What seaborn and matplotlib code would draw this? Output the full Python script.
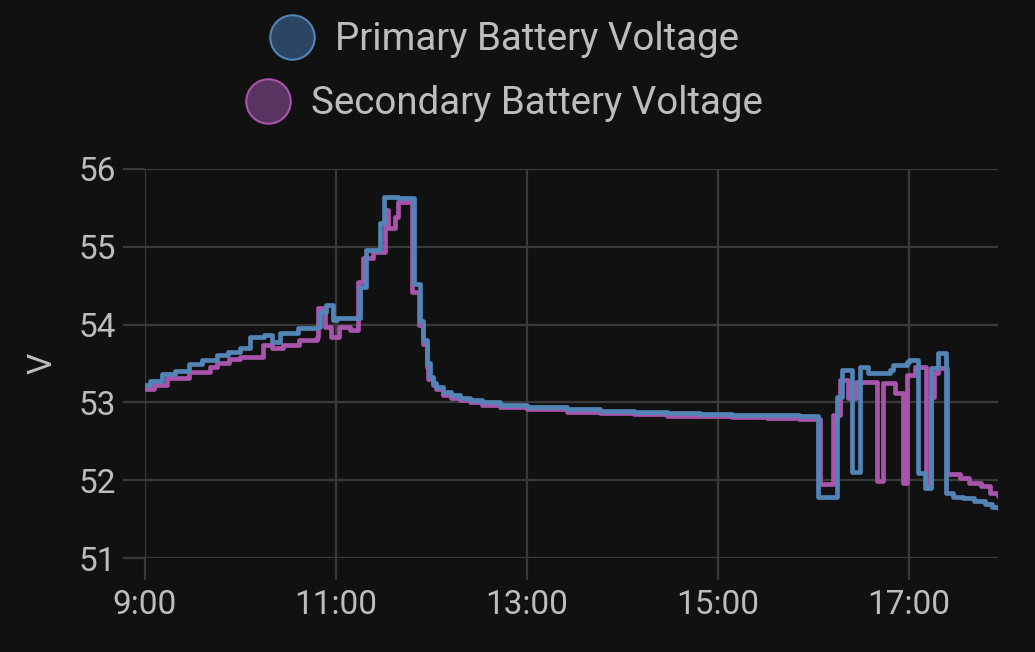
import matplotlib
matplotlib.use("Agg")
import matplotlib.pyplot as plt
from matplotlib.lines import Line2D
import seaborn as sns
import pandas as pd

# battery voltages (step data, value holds until next time)
primary_times = ["9:00", "9:03", "9:11", "9:19", "9:28", "9:36", "9:45", "9:52", "10:00", "10:06",
                 "10:15", "10:20", "10:25", "10:36", "10:48", "10:50", "10:54", "10:58", "11:01", "11:15",
                 "11:19", "11:28", "11:30", "11:39", "11:49", "11:53", "11:55", "11:57", "11:59", "12:01",
                 "12:03", "12:07", "12:12", "12:18", "12:24", "12:32", "12:43", "13:00", "13:25", "13:46",
                 "14:07", "14:28", "14:49", "15:09", "15:31", "15:51", "16:03", "16:15", "16:18", "16:24",
                 "16:29", "16:34", "16:48", "16:50", "16:59", "17:00", "17:06", "17:10", "17:14", "17:18",
                 "17:23", "17:28", "17:34", "17:41", "17:48", "17:52", "17:56"]
primary_volts = [53.22, 53.27, 53.37, 53.40, 53.49, 53.55, 53.61, 53.65, 53.70, 53.84,
                 53.87, 53.78, 53.89, 53.95, 53.97, 54.16, 54.25, 54.06, 54.08, 54.48,
                 54.96, 55.30, 55.64, 55.62, 54.52, 54.05, 53.80, 53.50, 53.33, 53.25,
                 53.20, 53.13, 53.09, 53.06, 53.03, 53.00, 52.97, 52.94, 52.91, 52.89,
                 52.88, 52.86, 52.85, 52.84, 52.84, 52.83, 51.78, 53.07, 53.42, 52.10,
                 53.45, 53.38, 53.42, 53.48, 53.52, 53.55, 52.09, 51.90, 53.44, 53.63,
                 51.83, 51.79, 51.77, 51.74, 51.70, 51.66, 51.64]

secondary_times = ["9:00", "9:06", "9:14", "9:28", "9:41", "9:45", "9:53", "10:00", "10:14", "10:20",
                   "10:27", "10:37", "10:48", "10:49", "10:53", "10:57", "11:02", "11:09", "11:14", "11:17",
                   "11:23", "11:31", "11:33", "11:37", "11:39", "11:48", "11:52", "11:55", "11:57", "11:58",
                   "12:01", "12:03", "12:07", "12:12", "12:18", "12:24", "12:32", "12:43", "13:00", "13:25",
                   "13:46", "14:07", "14:28", "14:49", "15:09", "15:31", "15:51", "16:04", "16:12", "16:17",
                   "16:22", "16:27", "16:40", "16:44", "16:51", "16:56", "16:59", "17:04", "17:11", "17:14",
                   "17:16", "17:18", "17:24", "17:32", "17:38", "17:45", "17:51", "17:56"]
secondary_volts = [53.17, 53.23, 53.31, 53.39, 53.46, 53.51, 53.56, 53.58, 53.74, 53.70,
                   53.74, 53.80, 53.84, 54.21, 53.97, 53.84, 53.97, 53.93, 54.55, 54.85,
                   54.93, 55.47, 55.24, 55.38, 55.57, 54.42, 54.00, 53.75, 53.45, 53.30,
                   53.22, 53.17, 53.10, 53.06, 53.03, 53.00, 52.97, 52.94, 52.91, 52.88,
                   52.86, 52.85, 52.83, 52.82, 52.81, 52.80, 52.79, 51.95, 52.84, 53.29,
                   53.06, 53.26, 51.99, 53.25, 53.12, 51.96, 53.35, 53.46, 51.92, 53.07,
                   53.38, 53.44, 52.08, 52.03, 51.97, 51.92, 51.84, 51.80]

x_ticks = [9, 11, 13, 15, 17]
x_tick_labels = ["9:00", "11:00", "13:00", "15:00", "17:00"]
y_ticks = [51, 52, 53, 54, 55, 56]
labels = ["Primary Battery Voltage", "Secondary Battery Voltage"]


def to_hours(t):
    h, m = t.split(":")
    return int(h) + int(m) / 60


df_p = pd.DataFrame({"hour": [to_hours(t) for t in primary_times], "volt": primary_volts})
df_s = pd.DataFrame({"hour": [to_hours(t) for t in secondary_times], "volt": secondary_volts})

bg = "#111111"
grid_c = "#3a3a3a"
text_c = "#bdbdbd"
blue = "#5384b6"
purple = "#a854ad"

sns.set_style("dark")
plt.rcParams["font.family"] = ["Roboto", "DejaVu Sans"]

fig = plt.figure(figsize=(10.35, 6.52), dpi=100, facecolor=bg)
ax = fig.add_axes([0.140, 0.144, 0.824, 0.597], facecolor=bg)

# secondary first so the primary line sits on top
sns.lineplot(data=df_s, x="hour", y="volt", ax=ax, color=purple, linewidth=3.4,
             drawstyle="steps-post", errorbar=None, zorder=3)
sns.lineplot(data=df_p, x="hour", y="volt", ax=ax, color=blue, linewidth=3.4,
             drawstyle="steps-post", errorbar=None, zorder=4)

ax.set_xlim(9, 17.93)
ax.set_ylim(51, 56)
ax.set_xticks(x_ticks)
ax.set_xticklabels(x_tick_labels)
ax.set_yticks(y_ticks)
ax.grid(True, color=grid_c, linewidth=1.6)
# grid lines run past the plot edge as ticks
ax.tick_params(bottom=True, left=True, colors=grid_c, labelcolor=text_c, labelsize=24,
               length=16, width=1.6, pad=5)
ax.tick_params(axis="x", pad=6)
for s in ax.spines.values():
    s.set_visible(False)
ax.set_xlabel("")
ax.set_ylabel("V", color=text_c, fontsize=24, labelpad=14)

# one centered legend row per series
handles = [
    Line2D([], [], linestyle="none", marker="o", markersize=32, markerfacecolor="#2c4562",
           markeredgecolor=blue, markeredgewidth=1.5),
    Line2D([], [], linestyle="none", marker="o", markersize=32, markerfacecolor="#5a3461",
           markeredgecolor=purple, markeredgewidth=1.5),
]
for h, lab, yy in zip(handles, labels, [0.939, 0.841]):
    fig.legend([h], [lab], loc="center", bbox_to_anchor=(0.487, yy), frameon=False,
               fontsize=27.7, labelcolor=text_c, handlelength=1.2, handletextpad=0.5,
               borderpad=0, borderaxespad=0)

fig.savefig("out.png", dpi=100, facecolor=bg)
